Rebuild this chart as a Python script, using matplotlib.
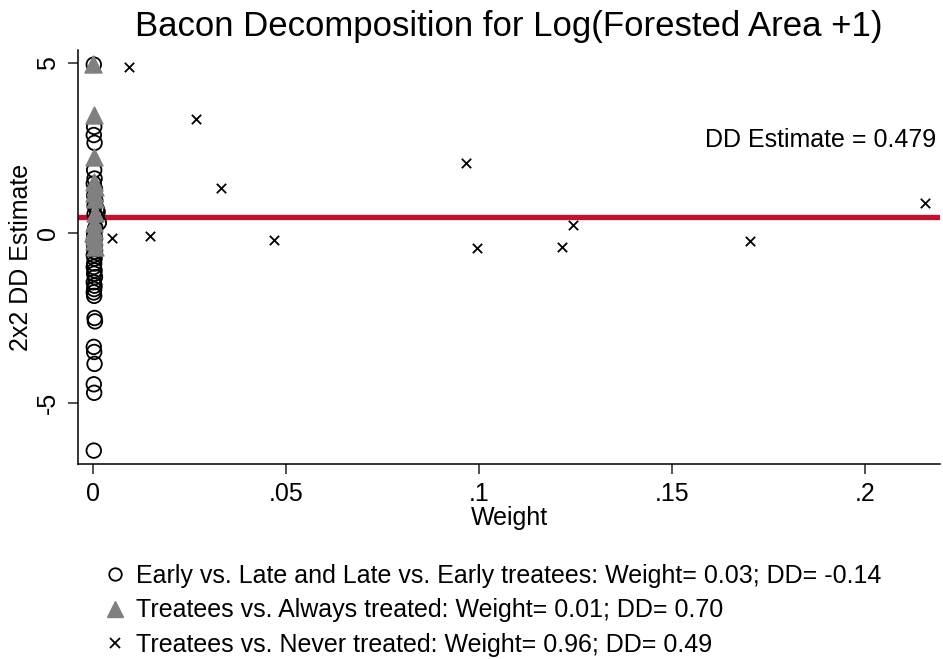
import matplotlib.pyplot as plt
from matplotlib.lines import Line2D

plt.rcParams['font.family'] = ['Liberation Sans', 'DejaVu Sans']

# Early vs. Late and Late vs. Early treatees
early_w = [0.0002, 0.0003, 0.0002, 0.0004, 0.0003, 0.0004, 0.0002, 0.0005, 0.0003, 0.0006,
           0.0004, 0.0010, 0.0012, 0.0008, 0.0015, 0.0006, 0.0004, 0.0003, 0.0005, 0.0002,
           0.0004, 0.0003, 0.0005, 0.0002, 0.0004, 0.0003, 0.0002, 0.0004, 0.0003, 0.0005,
           0.0002, 0.0004, 0.0003, 0.0002, 0.0003, 0.0004, 0.0005, 0.0002, 0.0003, 0.0004,
           0.0002, 0.0003, 0.0002, 0.0003, 0.0004]
early_dd = [4.95, 3.12, 2.88, 2.65, 1.85, 1.60, 1.45, 1.30, 1.10, 0.95,
            0.80, 0.70, 0.62, 0.45, 0.30, 0.15, 0.05, -0.05, -0.15, -0.25,
            -0.35, -0.45, -0.55, -0.65, -0.75, -0.90, -1.00, -1.10, -1.20, -1.30,
            -1.45, -1.55, -1.65, -1.75, -1.85, -2.50, -2.60, -3.35, -3.50, -3.85,
            -4.45, -4.70, -6.40, -0.20, 0.55]

# Treatees vs. Always treated
always_w = [0.0001, 0.0002, 0.0003, 0.0002, 0.0004, 0.0003, 0.0005, 0.0004, 0.0003, 0.0002,
            0.0001, 0.0003, 0.0002, 0.0004]
always_dd = [4.97, 3.47, 2.24, 1.50, 1.35, 1.18, 1.00, 0.59, 0.30, 0.10,
             0.00, -0.10, -0.25, -0.40]

# Treatees vs. Never treated
never_w = [0.0093, 0.0267, 0.0332, 0.0049, 0.0148, 0.0469, 0.0966, 0.0995,
           0.1215, 0.1244, 0.1702, 0.2155]
never_dd = [4.88, 3.35, 1.32, -0.15, -0.09, -0.21, 2.06, -0.44,
            -0.41, 0.24, -0.24, 0.88]

dd_estimate = 0.479

labels = ['Early vs. Late and Late vs. Early treatees: Weight= 0.03; DD= -0.14',
          'Treatees vs. Always treated: Weight= 0.01; DD= 0.70',
          'Treatees vs. Never treated: Weight= 0.96; DD= 0.49']

fs = 18

fig = plt.figure(figsize=(9.43, 6.59), dpi=100)
ax = fig.add_axes([78 / 943, 1 - 464 / 659, (940 - 78) / 943, (464 - 50) / 659])

ax.scatter(early_w, early_dd, s=110, facecolors='none', edgecolors='black', linewidths=1.3, zorder=2)
ax.scatter(always_w, always_dd, s=150, marker='^', color='#808080', zorder=3)
ax.scatter(never_w, never_dd, s=45, marker='x', color='black', linewidths=1.3, zorder=4)
ax.axhline(dd_estimate, color='#c8102e', lw=3.8, zorder=1)

ax.text(0.2185, 2.72, 'DD Estimate = %.3f' % dd_estimate, ha='right', va='center', fontsize=fs)

ax.set_xlim(-0.00389, 0.2194)
ax.set_ylim(-6.794, 5.38)
ax.set_xticks([0, 0.05, 0.1, 0.15, 0.2])
ax.set_xticklabels(['0', '.05', '.1', '.15', '.2'])
ax.set_yticks([-5, 0, 5])
ax.set_yticklabels(['-5', '0', '5'], rotation=90, va='center')
ax.tick_params(axis='both', labelsize=fs, length=7, width=1.2, color='#333333', pad=6)
for s in ['top', 'right']:
    ax.spines[s].set_visible(False)
for s in ['left', 'bottom']:
    ax.spines[s].set_linewidth(1.1)

ax.set_xlabel('Weight', fontsize=fs, labelpad=0)
ax.set_ylabel('2x2 DD Estimate', fontsize=fs, labelpad=2)
ax.set_title('Bacon Decomposition for Log(Forested Area +1)', fontsize=25, pad=10)

handles = [Line2D([], [], ls='none', marker='o', mfc='none', mec='black', ms=9, mew=1.3),
           Line2D([], [], ls='none', marker='^', color='#808080', ms=11),
           Line2D([], [], ls='none', marker='x', color='black', ms=7, mew=1.3)]
fig.legend(handles, labels, loc='upper left', bbox_to_anchor=(92 / 943, 1 - 554 / 659),
           frameon=False, fontsize=fs, handletextpad=0.35, labelspacing=0.42,
           handlelength=1.0, borderaxespad=0)

fig.savefig('out.png', dpi=100)
